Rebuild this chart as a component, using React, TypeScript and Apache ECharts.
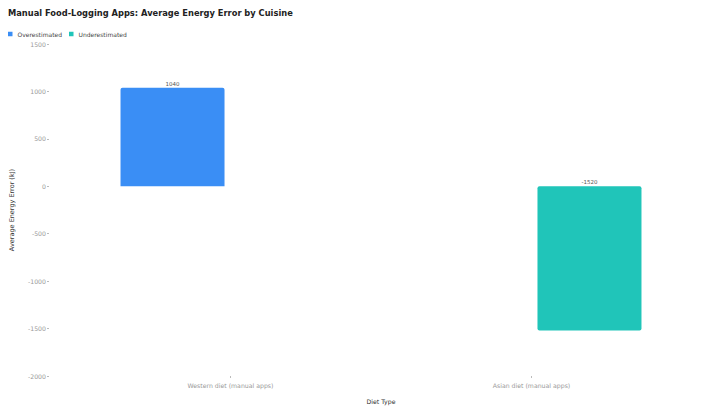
import React, { useEffect, useRef } from 'react';
import * as echarts from 'echarts';

const categories = ['Western diet (manual apps)', 'Asian diet (manual apps)'];
const overestimated = [1040, null];
const underestimated = [null, -1520];

const FONT = 'DejaVu Sans';

const App: React.FC = () => {
  const chartRef = useRef<HTMLDivElement | null>(null);

  useEffect(() => {
    if (!chartRef.current) return;
    const chart = echarts.init(chartRef.current, null, { renderer: 'svg' });

    const option: echarts.EChartsOption = {
      animation: false,
      textStyle: { fontFamily: FONT },
      title: {
        text: 'Manual Food-Logging Apps: Average Energy Error by Cuisine',
        left: 8,
        top: 9,
        padding: 0,
        textStyle: { fontSize: 8.3, fontWeight: 'bold', color: '#222', fontFamily: FONT },
      },
      legend: {
        left: 8,
        top: 31,
        padding: 0,
        itemWidth: 4.5,
        itemHeight: 4.5,
        itemGap: 7,
        icon: 'rect',
        textStyle: { fontSize: 6, color: '#444', fontFamily: FONT },
        data: ['Overestimated', 'Underestimated'],
      },
      grid: { left: 76, right: 38, top: 44, bottom: 35 },
      xAxis: {
        type: 'category',
        data: categories,
        name: 'Diet Type',
        nameLocation: 'middle',
        nameGap: 22,
        nameTextStyle: { fontSize: 6.2, color: '#333' },
        axisLine: { show: false, onZero: false },
        axisTick: { show: true, alignWithLabel: true, length: 2, lineStyle: { color: '#bbb' } },
        axisLabel: { fontSize: 6.2, color: '#999', margin: 6 },
      },
      yAxis: {
        type: 'value',
        min: -2000,
        max: 1500,
        interval: 500,
        offset: 31,
        name: 'Average Energy Error (kJ)',
        nameLocation: 'middle',
        nameGap: 34,
        nameTextStyle: { fontSize: 6.5, color: '#333' },
        axisLine: { show: false },
        axisTick: { show: true, length: 2, lineStyle: { color: '#bbb' } },
        axisLabel: { fontSize: 6.2, color: '#999', margin: 3, formatter: (v: number) => String(v) },
        splitLine: { show: false },
      },
      series: [
        {
          name: 'Overestimated',
          type: 'bar',
          data: overestimated,
          barWidth: 104,
          barGap: '11.5%',
          itemStyle: { color: '#3a8ef5', borderRadius: [2, 2, 0, 0] },
          label: { show: true, position: 'top', fontSize: 5.5, color: '#555', distance: 1 },
        },
        {
          name: 'Underestimated',
          type: 'bar',
          data: underestimated,
          barWidth: 104,
          barGap: '11.5%',
          itemStyle: { color: '#20c5b9', borderRadius: [2, 2, 2, 2] },
          label: { show: true, position: 'top', fontSize: 5.5, color: '#555', distance: 1 },
        },
      ],
    };

    chart.setOption(option);
    return () => {
      chart.dispose();
    };
  }, []);

  return (
    <div
      ref={chartRef}
      style={{ position: 'absolute', left: 0, top: 0, width: 720, height: 411 }}
    />
  );
};

export default App;
